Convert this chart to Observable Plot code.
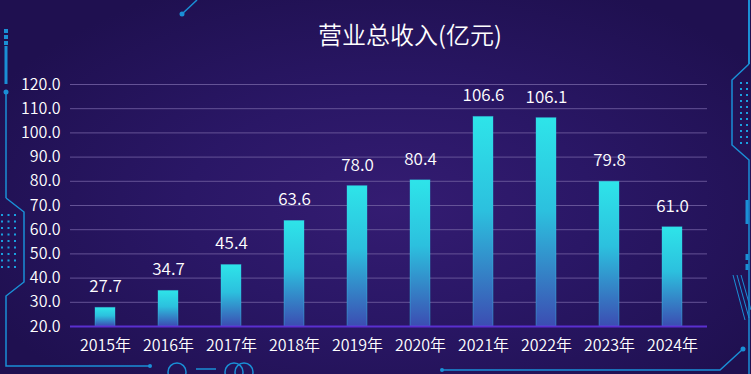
<!DOCTYPE html>
<html>
<head>
<meta charset="utf-8">
<script src="https://cdn.jsdelivr.net/npm/d3@7"></script>
<script src="https://cdn.jsdelivr.net/npm/@observablehq/plot@0.6"></script>
<style>
  html, body { margin: 0; padding: 0; background: #1e0f4a; }
  #wrap {
    position: relative; width: 751px; height: 374px; overflow: hidden;
    background: radial-gradient(ellipse 60% 65% at 52% 55%, #341c72 0%, #2a1766 45%, #1f1050 100%);
    font-family: "Noto Sans CJK SC", "Noto Sans", sans-serif;
  }
  #title {
    height: 66px; width: 751px; box-sizing: border-box;
    padding-left: 69px; text-align: center;
    color: #ffffff; font-size: 24px; line-height: 68px; font-weight: 350;
    position: relative; z-index: 2;
  }
  #deco { position: absolute; left: 0; top: 0; z-index: 1; }
  #chart { position: relative; z-index: 2; }
  #chart text { font-weight: 350; }
</style>
</head>
<body>
<div id="wrap">
  <svg id="deco" width="751" height="374" viewBox="0 0 751 374">
    <g stroke="#1a8fd6" fill="none" stroke-width="1.5">
      <line x1="197" y1="0" x2="182" y2="14"/>
      <line x1="6" y1="46" x2="6" y2="84" stroke-width="3"/>
      <line x1="6" y1="92" x2="6" y2="198"/>
      <polyline points="6,198 24,212 24,282 6,296 6,366 150,366"/>
      <line x1="749" y1="0" x2="749" y2="64" stroke-width="2"/>
      <polyline points="749,64 732,80 732,145 749,160 749,374"/>
      <polyline points="442,370 720,370 743,349"/>
      <circle cx="177" cy="372" r="9"/>
      <line x1="196" y1="369" x2="216" y2="369"/>
      <circle cx="234" cy="372" r="9"/>
      <circle cx="244" cy="372" r="9"/>
      <line x1="747" y1="200" x2="747" y2="224" stroke-width="3"/>
      <line x1="747" y1="254" x2="747" y2="260" stroke-width="3"/>
      <line x1="747" y1="264" x2="747" y2="270" stroke-width="3"/>
      <line x1="733" y1="275" x2="745" y2="320" stroke-width="1"/>
      <line x1="737" y1="275" x2="749" y2="318" stroke-width="1"/>
      <line x1="741" y1="275" x2="751" y2="310" stroke-width="1"/>
    </g>
    <g fill="#1a8fd6">
      <rect x="4" y="29" width="4" height="4"/>
      <rect x="4" y="35" width="4" height="4"/>
      <rect x="4" y="41" width="4" height="4"/>
      <circle cx="6" cy="92" r="2.5"/>
      <circle cx="182" cy="14" r="2.5"/>
      <circle cx="150" cy="366" r="2"/>
      <circle cx="442" cy="370" r="2"/>
      <circle cx="743" cy="349" r="2.5"/>
    </g>
    <g id="dots" fill="#1a9fe0"></g>
  </svg>
  <div id="title">营业总收入(亿元)</div>
  <div id="chart"></div>
</div>
<script>
// ---- data ----
const years = ["2015年","2016年","2017年","2018年","2019年","2020年","2021年","2022年","2023年","2024年"];
const revenue = [27.7, 34.7, 45.4, 63.6, 78.0, 80.4, 106.6, 106.1, 79.8, 61.0];
const yTicks = [20, 30, 40, 50, 60, 70, 80, 90, 100, 110, 120];
const yDomain = [20, 120];

const data = years.map((y, i) => ({year: y, value: revenue[i]}));

// decorative dot grids
const dots = d3.select("#dots");
for (let r = 0; r < 9; r++) for (let c = 0; c < 3; c++)
  dots.append("rect").attr("x", 1 + c * 6.5).attr("y", 214 + r * 6.5).attr("width", 2).attr("height", 2);
for (let r = 0; r < 11; r++) for (let c = 0; c < 2; c++)
  dots.append("rect").attr("x", 740 + c * 6).attr("y", 82 + r * 6).attr("width", 2).attr("height", 2);

const defs = () => {
  const g = d3.create("svg:defs");
  const lg = g.append("linearGradient").attr("id", "barGrad")
    .attr("x1", 0).attr("y1", 0).attr("x2", 0).attr("y2", 1);
  lg.append("stop").attr("offset", "0%").attr("stop-color", "#2ee4e9");
  lg.append("stop").attr("offset", "45%").attr("stop-color", "#2cc0de");
  lg.append("stop").attr("offset", "100%").attr("stop-color", "#3c4db2");
  return g.node();
};

const chart = Plot.plot({
  width: 751,
  height: 308,
  marginTop: 18,
  marginBottom: 48,
  marginLeft: 70,
  marginRight: 44,
  style: {background: "transparent", color: "#ffffff", fontFamily: "'Noto Sans CJK SC', 'Noto Sans', sans-serif"},
  x: {domain: years, paddingInner: 0.685, paddingOuter: 0.3425, label: null},
  y: {domain: yDomain, label: null},
  marks: [
    defs,
    Plot.gridY(yTicks.filter(t => t !== 20), {stroke: "#6b5a9c", strokeOpacity: 0.9, strokeWidth: 1}),
    Plot.barY(data, {x: "year", y1: () => 20, y2: "value", fill: "url(#barGrad)", stroke: "#35d6ea", strokeOpacity: 0.35, strokeWidth: 1}),
    Plot.ruleY([20], {stroke: "#5a2fcf", strokeWidth: 2}),
    Plot.text(data, {x: "year", y: "value", text: d => d.value.toFixed(1), dy: -21, fill: "#ffffff", fontSize: 17}),
    Plot.axisY({ticks: yTicks, tickFormat: d3.format(".1f"), tickSize: 0, tickPadding: 10, fontSize: 16, fill: "#ffffff", label: null}),
    Plot.axisX({tickSize: 0, tickPadding: 13, fontSize: 16, fill: "#ffffff", label: null})
  ]
});
document.getElementById("chart").appendChild(chart);
</script>
</body>
</html>
